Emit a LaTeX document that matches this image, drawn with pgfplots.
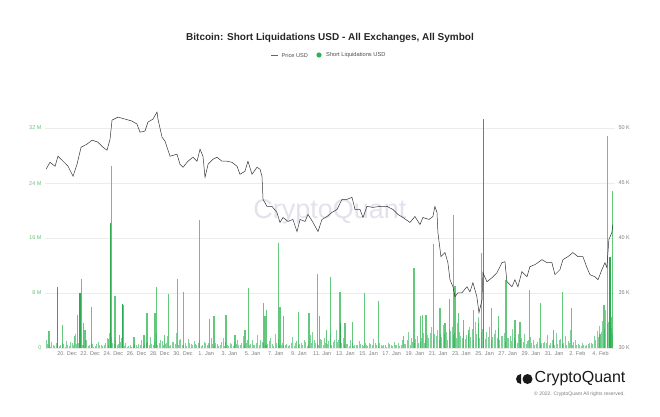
\documentclass[border=0pt]{standalone}
\usepackage{pgfplots}
\pgfplotsset{compat=1.18}
\usepackage{fontspec}
\setmainfont{Liberation Sans}
\definecolor{barc}{RGB}{46,178,86}
\definecolor{barl}{RGB}{100,200,124}
\definecolor{bard}{RGB}{44,168,80}
\definecolor{ticg}{RGB}{100,195,120}
\definecolor{txtg}{RGB}{125,125,125}
\definecolor{gridc}{RGB}{236,236,236}
\definecolor{wm}{RGB}{226,226,236}
\definecolor{pricec}{RGB}{50,50,50}
\begin{document}
\begin{tikzpicture}[x=1pt,y=1pt]
\begin{axis}[
  name=ax, scale only axis,
  width=570pt, height=268pt,
  xmin=-1.9, xmax=47.25, ymin=0, ymax=39,
  axis line style={draw=none},
  major tick length=0pt,
  ytick={0,8,16,24,32}, yticklabels={0,8 M,16 M,24 M,32 M},
  ymajorgrids, grid style={draw=gridc, line width=0.5pt},
  xtick={0,2,...,46},
  xticklabels={20. Dec,22. Dec,24. Dec,26. Dec,28. Dec,30. Dec,1. Jan,3. Jan,5. Jan,7. Jan,9. Jan,11. Jan,13. Jan,15. Jan,17. Jan,19. Jan,21. Jan,23. Jan,25. Jan,27. Jan,29. Jan,31. Jan,2. Feb,4. Feb},
  tick label style={font=\fontsize{5.5}{6}\selectfont},
  yticklabel style={text=ticg},
  xticklabel style={text=txtg},
]
\node[font=\fontsize{27}{27}\selectfont, text=wm] at (axis cs:22.67,19.74) {CryptoQuant};
\addplot[ycomb, draw=barl, line width=1.3pt, no marks] coordinates {
(-1.55,2.5) (-0.37,3.3) (0.63,1.7) (0.89,4.8) (1.23,10.1)
(1.41,3.7) (1.55,2.6) (2.13,5.9) (3.56,1.3) (3.85,26.5) (4.14,7.5)
(4.51,1.9) (4.84,6.2) (5.78,1.6) (6.64,1.9) (6.90,5.1) (7.59,5.1)
(7.73,8.9) (8.39,1.9) (8.73,7.8) (9.51,10.1) (10.03,8.1) (11.41,18.7) (12.27,4.2)
(12.67,4.6) (13.71,4.8) (14.48,1.9) (15.34,2.6) (15.63,8.7) (16.93,6.6) (17.07,4.6)
(17.22,5.6) (18.22,15.3) (18.36,6.0) (18.65,4.6) (19.94,5.2) (20.86,5.1) (21.61,10.7)
(21.75,4.6) (22.39,2.6) (22.73,10.3) (23.53,8.1) (23.97,3.6) (24.63,3.8)
(25.63,8.0) (26.84,6.8) (28.99,1.8) (29.91,11.7) (30.49,4.7) (30.66,4.8) (30.95,4.8)
(31.58,15.1) (32.16,5.8) (32.59,3.6) (32.96,7.2) (33.30,19.4) (33.45,9.0) (33.74,5.1)
(34.17,4.1) (34.60,2.6) (35.03,5.6) (35.46,3.6) (35.75,13.8) (36.61,5.8)
(37.18,4.6) (37.84,9.9) (38.62,4.1) (39.05,3.8) (39.86,8.4) (40.84,6.6) (41.92,2.6)
(42.73,8.1) (43.51,5.8) (45.95,2.1) (46.29,6.3) (46.58,30.8) (46.90,4.5)
(47.01,22.9)
};
\addplot[ycomb, draw=bard, line width=1.3pt, no marks] coordinates {
(-0.84,8.9) (1.12,8.0) (3.76,18.2) (4.80,6.4) (23.55,3.6) (35.89,33.3) (46.81,13.3)
};
\addplot[ycomb, draw=barc, line width=1.0pt, opacity=0.6, no marks]
 table[x expr=\coordindex*0.25-1.8, y index=0, header=false, row sep=\\] {
1.2\\ 0.5\\ 0.9\\ 0.3\\
1.5\\ 0.4\\ 0.6\\ 1.0\\
0.3\\ 0.8\\ 2.0\\ 0.7\\
1.8\\ 0.5\\ 1.1\\ 0.4\\
0.6\\ 0.3\\ 0.9\\ 0.5\\
0.4\\ 1.4\\ 2.2\\ 0.8\\
1.2\\ 0.6\\ 1.5\\ 0.3\\
0.2\\ 0.5\\ 0.3\\ 0.4\\
0.6\\ 1.2\\ 0.4\\ 0.9\\
1.6\\ 0.5\\ 2.0\\ 0.7\\
1.0\\ 0.6\\ 1.8\\ 0.5\\
0.9\\ 2.2\\ 1.1\\ 0.4\\
0.8\\ 1.3\\ 0.6\\ 1.0\\
0.5\\ 1.2\\ 0.4\\ 0.8\\
0.7\\ 1.5\\ 0.3\\ 0.6\\
0.5\\ 1.4\\ 0.9\\ 0.3\\
0.6\\ 0.9\\ 1.2\\ 0.5\\
1.7\\ 0.8\\ 0.4\\ 1.1\\
0.5\\ 1.9\\ 1.2\\ 0.7\\
0.4\\ 1.0\\ 0.6\\ 2.1\\
1.3\\ 0.4\\ 0.3\\ 0.6\\
0.5\\ 1.6\\ 0.8\\ 0.4\\
0.7\\ 1.2\\ 0.3\\ 1.9\\
2.3\\ 0.8\\ 0.5\\ 1.1\\
1.4\\ 0.6\\ 2.0\\ 0.9\\
2.6\\ 1.1\\ 0.8\\ 0.4\\
0.6\\ 1.2\\ 0.3\\ 0.5\\
1.0\\ 0.4\\ 0.7\\ 0.3\\
0.6\\ 1.3\\ 0.5\\ 0.8\\
0.3\\ 0.5\\ 0.7\\ 0.4\\
0.9\\ 0.5\\ 0.3\\ 1.2\\
0.6\\ 2.4\\ 1.4\\ 0.7\\
1.8\\ 0.9\\ 2.2\\ 1.1\\
1.5\\ 3.0\\ 2.1\\ 2.6\\
1.9\\ 3.4\\ 2.4\\ 2.8\\
3.1\\ 2.2\\ 3.6\\ 1.8\\
2.5\\ 1.9\\ 3.0\\ 2.7\\
3.8\\ 4.5\\ 2.4\\ 1.9\\
2.3\\ 3.1\\ 1.6\\ 2.6\\
2.9\\ 1.7\\ 2.2\\ 1.5\\
1.8\\ 2.7\\ 1.2\\ 2.0\\
1.4\\ 2.1\\ 1.0\\ 1.6\\
1.2\\ 0.6\\ 1.5\\ 0.8\\
0.9\\ 1.9\\ 0.7\\ 1.3\\
2.2\\ 1.1\\ 0.6\\ 1.7\\
1.0\\ 2.6\\ 0.9\\ 0.5\\
0.4\\ 0.8\\ 0.3\\ 0.6\\
0.7\\ 1.8\\ 2.5\\ 3.2\\
4.0\\ 5.5\\ 3.8\\ 2.9\\
};
\addplot[ycomb, draw=barc, line width=1.0pt, opacity=0.6, no marks]
 table[x expr=\coordindex*0.25-1.675, y index=0, header=false, row sep=\\] {
0.6\\ 0.2\\ 0.4\\ 0.8\\
0.3\\ 0.7\\ 0.2\\ 0.5\\
0.9\\ 0.4\\ 0.6\\ 0.3\\
0.5\\ 1.2\\ 0.3\\ 0.7\\
0.2\\ 0.6\\ 0.4\\ 0.3\\
0.8\\ 0.5\\ 1.6\\ 0.6\\
0.4\\ 0.9\\ 0.3\\ 0.7\\
0.3\\ 0.2\\ 0.6\\ 0.2\\
0.5\\ 0.3\\ 0.8\\ 0.4\\
0.6\\ 0.9\\ 0.5\\ 1.1\\
0.4\\ 0.7\\ 0.3\\ 0.9\\
0.6\\ 0.4\\ 1.3\\ 0.5\\
0.3\\ 0.8\\ 0.4\\ 0.6\\
0.7\\ 0.3\\ 0.9\\ 0.4\\
0.4\\ 0.6\\ 0.8\\ 0.3\\
0.9\\ 0.3\\ 0.5\\ 0.7\\
0.3\\ 0.6\\ 0.4\\ 0.8\\
0.5\\ 1.1\\ 0.6\\ 0.4\\
0.8\\ 0.4\\ 0.9\\ 0.5\\
0.6\\ 1.4\\ 0.3\\ 0.7\\
0.4\\ 0.8\\ 0.5\\ 0.3\\
0.7\\ 0.3\\ 1.0\\ 0.6\\
0.5\\ 0.9\\ 0.4\\ 0.8\\
1.1\\ 0.6\\ 1.3\\ 0.5\\
0.7\\ 1.0\\ 0.4\\ 1.2\\
0.9\\ 0.5\\ 1.4\\ 0.6\\
0.3\\ 0.7\\ 0.5\\ 0.4\\
0.6\\ 0.3\\ 0.4\\ 0.7\\
0.4\\ 0.8\\ 0.3\\ 0.5\\
0.5\\ 0.2\\ 0.6\\ 0.3\\
0.4\\ 0.7\\ 0.5\\ 0.6\\
1.1\\ 0.5\\ 0.9\\ 1.3\\
0.8\\ 1.5\\ 0.7\\ 1.9\\
2.2\\ 1.3\\ 1.7\\ 1.1\\
1.6\\ 2.0\\ 1.2\\ 2.5\\
1.9\\ 1.4\\ 2.3\\ 1.5\\
1.3\\ 2.1\\ 1.6\\ 1.2\\
2.0\\ 1.5\\ 2.8\\ 1.3\\
1.6\\ 1.1\\ 2.0\\ 1.4\\
1.2\\ 1.8\\ 0.9\\ 1.5\\
1.0\\ 1.4\\ 0.8\\ 1.2\\
0.9\\ 0.6\\ 1.1\\ 0.7\\
0.5\\ 0.9\\ 0.4\\ 0.8\\
0.7\\ 0.4\\ 1.1\\ 0.5\\
0.6\\ 1.3\\ 0.8\\ 0.4\\
0.8\\ 0.5\\ 1.2\\ 0.6\\
0.3\\ 0.5\\ 0.4\\ 0.7\\
0.6\\ 1.1\\ 1.6\\ 2.4\\
2.8\\ 3.5\\ 4.2\\ 2.0\\
};
\end{axis}
\begin{axis}[
  at={(ax.south west)}, anchor=south west, scale only axis,
  width=570pt, height=268pt,
  xmin=-1.9, xmax=47.25, ymin=30, ymax=54.375,
  axis line style={draw=none},
  major tick length=0pt,
  axis y line*=right, xtick=\empty,
  ytick={30,35,40,45,50}, yticklabels={30 K,35 K,40 K,45 K,50 K},
  tick label style={font=\fontsize{5.5}{6}\selectfont},
  yticklabel style={text=txtg},
]
\addplot[draw=pricec, line width=0.5pt] coordinates {
(-1.81,46.26) (-1.47,46.89) (-1.03,46.53) (-0.78,47.44) (-0.34,46.99) (0.09,46.53)
(0.52,45.62) (0.86,46.71) (1.21,48.26) (1.72,48.54) (2.16,48.90) (2.67,48.72)
(3.10,48.26) (3.45,47.99) (3.71,49.00) (3.88,50.73) (4.40,51.00) (5.00,50.82)
(5.60,50.64) (6.03,50.37) (6.29,49.63) (6.72,49.73) (6.98,50.55) (7.41,50.82)
(7.76,51.46) (7.84,50.82) (8.19,49.18) (8.45,48.81) (8.88,47.44) (9.48,47.63)
(9.74,46.71) (10.00,46.44) (10.43,46.99) (10.86,47.35) (11.21,46.99) (11.47,48.08)
(11.72,47.44) (11.90,45.53) (12.16,46.71) (12.59,47.17) (12.93,47.35) (13.36,46.99)
(13.79,46.99) (14.22,46.89) (14.66,46.53) (14.91,45.80) (15.34,46.07) (15.60,46.99)
(15.95,45.80) (16.38,46.44) (16.64,46.26) (16.81,45.62) (16.90,43.52) (17.24,42.88)
(17.67,42.88) (18.10,42.33) (18.36,41.42) (18.62,41.87) (19.05,41.51) (19.48,41.69)
(19.83,40.59) (20.09,41.69) (20.52,41.51) (20.78,42.15) (21.21,41.42) (21.64,40.59)
(21.98,41.69) (22.41,41.96) (22.84,42.33) (23.28,42.60) (23.71,43.52) (24.14,43.52)
(24.57,43.70) (24.83,42.60) (25.26,42.60) (25.52,41.87) (25.86,42.88) (26.38,42.79)
(26.98,42.88) (27.59,42.88) (28.10,42.60) (28.53,42.15) (28.97,41.87) (29.57,41.42)
(30.00,41.96) (30.43,41.23) (30.69,41.87) (31.21,41.69) (31.55,41.96) (31.72,42.88)
(31.90,42.33) (31.98,40.50) (32.24,38.31) (32.59,38.68) (32.84,37.76) (33.02,36.21)
(33.28,35.57) (33.45,34.66) (33.71,35.02) (34.05,35.02) (34.48,35.57) (34.74,35.11)
(35.00,35.94) (35.34,34.66) (35.52,33.20) (35.78,34.38) (35.86,36.85) (36.21,36.03)
(36.64,36.39) (37.07,36.85) (37.50,37.76) (37.76,37.85) (37.93,36.03) (38.36,35.57)
(38.62,36.21) (38.88,35.57) (39.22,36.94) (39.66,36.48) (39.91,37.40) (40.34,37.58)
(40.60,37.76) (40.95,38.04) (41.38,37.76) (41.81,37.76) (42.07,36.67) (42.50,37.12)
(42.76,38.04) (43.19,38.31) (43.62,38.68) (44.05,38.31) (44.48,38.31) (44.83,37.31)
(45.09,36.67) (45.52,36.48) (45.78,36.21) (46.12,37.12) (46.38,37.76) (46.55,37.31)
(46.72,39.86) (46.98,40.50) (47.07,41.23)
};
\end{axis}
\begin{scope}[shift={(ax.south west)}, xshift=-45pt, yshift=-68pt]
\node[font=\bfseries\fontsize{10}{12}\selectfont, text=black!85] at (330,378) {Bitcoin: Short Liquidations USD - All Exchanges, All Symbol};
\draw[draw=black!60, line width=0.5pt] (271,361) -- (278,361);
\node[anchor=west, inner sep=0pt, font=\fontsize{5.6}{6}\selectfont, text=black!70] at (281.5,361) {Price USD};
\fill[barc] (319,361) circle (2.6);
\node[anchor=west, inner sep=0pt, font=\fontsize{5.7}{6}\selectfont, text=black!70] at (326,361) {Short Liquidations USD};
\fill[black!90] (521,37) ++(0,5) arc (90:270:5) -- cycle;
\fill[black!90] (527.5,37) circle (5);
\node[anchor=west, inner sep=0pt, font=\fontsize{16}{16}\selectfont, text=black!90] at (534.5,37) {CryptoQuant};
\node[anchor=east, inner sep=0pt, font=\fontsize{5}{6}\selectfont, text=txtg] at (625,22) {© 2022. CryptoQuant All rights reserved.};
\end{scope}
\pgfresetboundingbox
\path[use as bounding box] ([shift={(-45pt,-68pt)}]ax.south west) rectangle ([shift={(615pt,348pt)}]ax.south west);
\end{tikzpicture}
\end{document}
